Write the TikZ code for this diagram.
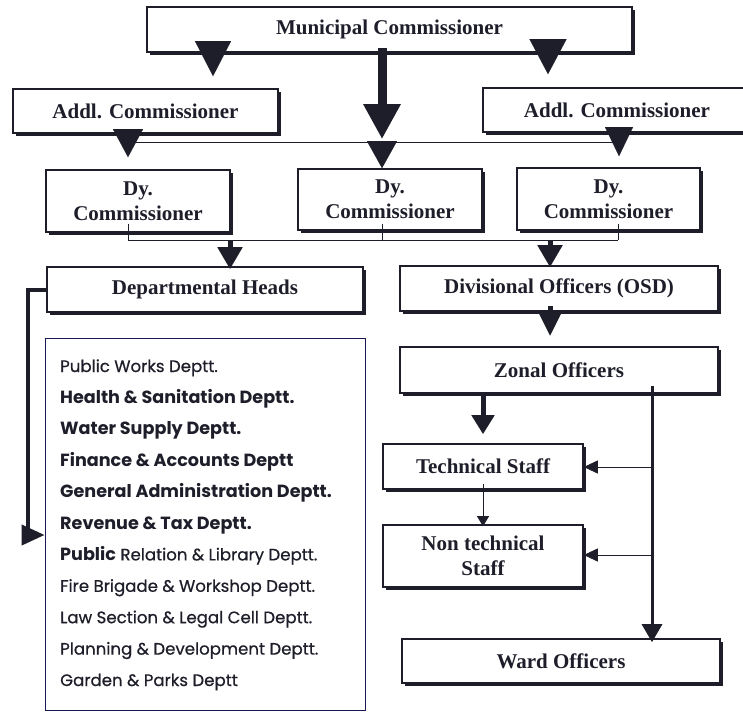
\documentclass[tikz,border=0pt]{standalone}
\usepackage{fontspec}
\setmainfont{Liberation Serif}
\newfontfamily\listfont{Poppins}[FakeBold=0.6]
\newfontfamily\listbold{Poppins}
\usetikzlibrary{arrows.meta,shadows}
\definecolor{ink}{HTML}{1E1E2A}
\newcommand{\bitem}[1]{{\listbold\bfseries\fontsize{17.6}{19}\selectfont #1}}
\begin{document}
\begin{tikzpicture}[x=1pt,y=-1pt,
  box/.style={draw=ink, line width=1.6pt, fill=white, inner sep=0pt,
    font=\fontsize{21}{25}\selectfont\bfseries, text=ink, align=center,
    drop shadow={shadow xshift=3pt, shadow yshift=-3pt, fill=ink, opacity=1}},
  listbox/.style={draw=ink!80!blue, line width=0.8pt, fill=white, inner sep=0pt},
  item/.style={anchor=west, inner sep=0pt, text=ink, text height=11pt, text depth=3pt,
    font=\listfont\fontsize{16.6}{18}\selectfont},
  arrowtri/.style 2 args={-{Triangle[length=#1pt,width=#2pt]}},
  tri0/.style={draw=ink, line width=0.1pt},
  shaft/.style={draw=ink, line width=#1pt},
  thinl/.style={draw=ink, line width=0.9pt},
]
\useasboundingbox (0,0) rectangle (743,711);

% boxes
\node[box, minimum width=485pt, minimum height=45pt] (mc) at (389.5,29.5) {Municipal Commissioner};
\node[box, minimum width=265pt, minimum height=44pt] (al) at (145.5,111) {Addl. Commissioner};
\node[box, minimum width=268pt, minimum height=44pt] (ar) at (617,110) {Addl. Commissioner};
\node[box, minimum width=184pt, minimum height=62pt] (dl) at (138,201) {Dy.\\Commissioner};
\node[box, minimum width=184pt, minimum height=61pt] (dm) at (390,199.5) {Dy.\\Commissioner};
\node[box, minimum width=183pt, minimum height=62pt] (dr) at (608.5,199) {Dy.\\Commissioner};
\node[box, minimum width=316pt, minimum height=45pt] (dh) at (205,289.5) {Departmental Heads};
\node[box, minimum width=318pt, minimum height=45pt] (dv) at (559,288.5) {Divisional Officers (OSD)};
\node[box, minimum width=318pt, minimum height=46pt] (zo) at (559,370) {Zonal Officers};
\node[box, minimum width=200pt, minimum height=45pt] (ts) at (483,466.5) {Technical Staff};
\node[box, minimum width=200pt, minimum height=62pt] (nt) at (483,556) {Non technical\\Staff};
\node[box, minimum width=318pt, minimum height=44pt] (wo) at (561,661) {Ward Officers};

% department list
\node[listbox, minimum width=320pt, minimum height=372pt] (list) at (205,524) {};
\node[item] (l1) at (60,368) {Public Works Deptt.};
\node[item] (l2) at (60,399.4) {\bitem{Health \& Sanitation Deptt.}};
\node[item] (l3) at (60,430.8) {\bitem{Water Supply Deptt.}};
\node[item] (l4) at (60,462.2) {\bitem{Finance \& Accounts Deptt}};
\node[item] (l5) at (60,493.6) {\bitem{General Administration Deptt.}};
\node[item] (l6) at (60,525) {\bitem{Revenue \& Tax Deptt.}};
\node[item] (l7) at (60,556.4) {\bitem{Public} Relation \& Library Deptt.};
\node[item] (l8) at (60,587.8) {Fire Brigade \& Workshop Deptt.};
\node[item] (l9) at (60,619.2) {Law Section \& Legal Cell Deptt.};
\node[item] (l10) at (60,650.6) {Planning \& Development Deptt.};
\node[item] (l11) at (60,682) {Garden \& Parks Deptt};

% column coordinates
\coordinate (xa) at (213,0);
\coordinate (xb) at (548,0);
\coordinate (xm) at (382,0);
\coordinate (xl) at (128,0);
\coordinate (xr) at (619,0);
\coordinate (xdl) at (128,0);
\coordinate (xdr) at (618,0);
\coordinate (xh) at (230,0);
\coordinate (xv) at (550,0);
\coordinate (xt) at (483,0);
\coordinate (xw) at (652,0);
\coordinate (h1l) at (128,142);
\coordinate (h1r) at (614,142);
\coordinate (h2l) at (128,240);
\coordinate (h2r) at (618,240);
\coordinate (b1) at (652,467);
\coordinate (b2) at (652,555);
\coordinate (c1) at (28,535);

% top level arrows
\draw[tri0, arrowtri={35}{36}, shorten <=-10pt, shorten >=12pt] (mc.south -| xa) -- (al.north -| xa);
\draw[tri0, arrowtri={35}{37}, shorten <=-12pt, shorten >=13pt] (mc.south -| xb) -- (ar.north -| xb);
\draw[shaft=9, arrowtri={35}{35}, shorten <=-5pt, shorten >=29pt] (mc.south -| xm) -- (dm.north -| xm);

% horizontal line under additional commissioners
\draw[thinl] (h1l) -- (h1r);
\draw[tri0, arrowtri={27}{30}] (h1l -| xm) -- (dm.north -| xm);
\draw[tri0, arrowtri={28}{30}, shorten <=-3pt, shorten >=12pt] (al.south -| xl) -- (dl.north -| xl);
\draw[tri0, arrowtri={29}{28}, shorten <=-4pt, shorten >=11pt] (ar.south -| xr) -- (dr.north -| xr);

% lines from deputy commissioners
\draw[thinl, shorten <=-9pt] (dl.south -| xdl) -- (h2l);
\draw[thinl, shorten <=-7pt] (dm.south -| xm) -- (h2l -| xm);
\draw[thinl, shorten <=-7pt] (dr.south -| xdr) -- (h2r);
\draw[thinl] (h2l) -- (h2r);
\draw[shaft=5, arrowtri={22}{24}, shorten >=-3pt] (h2l -| xh) -- (dh.north -| xh);
\draw[shaft=5, arrowtri={22}{24}, shorten >=-2pt] (h2l -| xv) -- (dv.north -| xv);

% right column
\draw[shaft=5, arrowtri={22}{20}, shorten <=-6pt, shorten >=10pt] (dv.south -| xv) -- (zo.north -| xv);
\draw[shaft=5, arrowtri={19}{22}, shorten >=9pt] (zo.south -| xt) -- (ts.north -| xt);
\draw[shaft=3, arrowtri={18}{20}, shorten <=-8pt, shorten >=-4pt] (zo.south -| xw) -- (wo.north -| xw);
\draw[thinl, arrowtri={14}{13}] (b1) -- (ts.east |- b1);
\draw[thinl, arrowtri={14}{13}] (b2) -- (nt.east |- b2);
\draw[thinl, arrowtri={10}{12}, shorten <=-6pt, shorten >=-2pt] (ts.south -| xt) -- (nt.north -| xt);

% departmental heads to list
\draw[shaft=4, line join=miter, arrowtri={23}{20}] (dh.west) -| (c1) -- (c1 -| list.west);
\end{tikzpicture}
\end{document}
